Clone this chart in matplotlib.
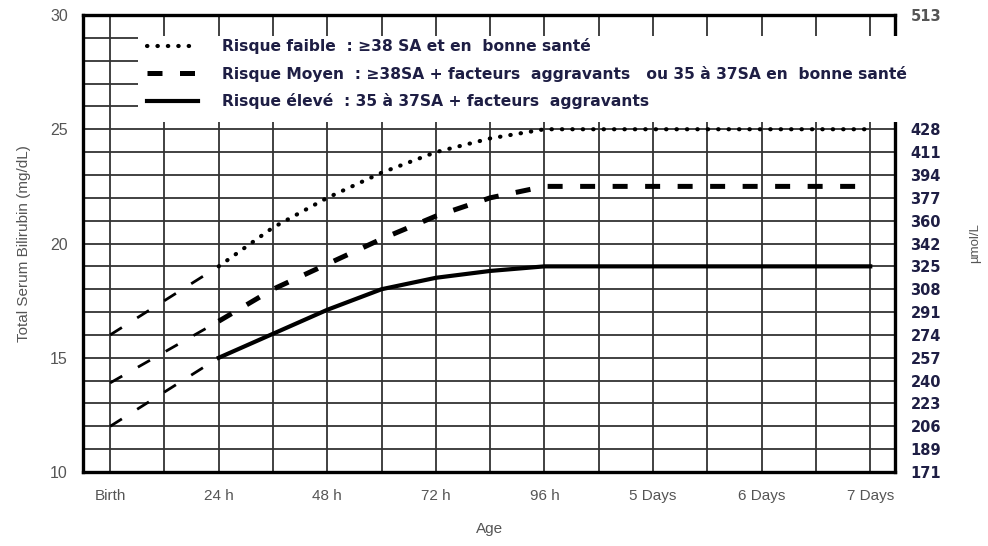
import matplotlib
matplotlib.use("Agg")
import matplotlib.pyplot as plt
from matplotlib.patches import Rectangle


# Age in hours, bilirubin in mg/dL
hours_early = [0, 24]
low_early = [16.0, 19.0]
mid_early = [13.9, 16.6]
high_early = [12.0, 15.0]

hours = [24, 36, 48, 60, 72, 84, 96, 168]
low_risk = [19.0, 20.7, 22.0, 23.1, 24.0, 24.6, 25.0, 25.0]
mid_risk = [16.6, 18.0, 19.1, 20.2, 21.2, 22.0, 22.5, 22.5]
high_risk = [15.0, 16.05, 17.1, 18.0, 18.5, 18.8, 19.0, 19.0]

legend_labels = [
    "Risque faible  : \u226538 SA et en  bonne santé",
    "Risque Moyen  : \u226538SA + facteurs  aggravants   ou 35 à 37SA en  bonne santé",
    "Risque élevé  : 35 à 37SA + facteurs  aggravants",
]

x_ticks = [0, 24, 48, 72, 96, 120, 144, 168]
x_labels = ["Birth", "24 h", "48 h", "72 h", "96 h", "5 Days", "6 Days", "7 Days"]
y_ticks = [10, 15, 20, 25, 30]
umol_ticks = [10, 11, 12, 13, 14, 15, 16, 17, 18, 19, 20, 21, 22, 23, 24, 25, 30]
umol_labels = ["171", "189", "206", "223", "240", "257", "274", "291", "308",
               "325", "342", "360", "377", "394", "411", "428", "513"]

label_grey = "#555555"
navy = "#1e1e44"

fig = plt.figure(figsize=(9.88, 5.46), dpi=100)
ax = fig.add_axes([0.084, 0.1355, 0.822, 0.837])

ax.set_xlim(-6, 173.5)
ax.set_ylim(10, 30)

# grid: every 12 h and every 1 mg/dL
ax.set_xticks(x_ticks)
ax.set_xticks([12, 36, 60, 84, 108, 132, 156], minor=True)
ax.set_yticks(y_ticks)
ax.set_yticks(range(10, 31), minor=True)
ax.grid(which="both", color="#333333", linewidth=1.3)
ax.set_axisbelow(True)
ax.tick_params(which="both", length=0)

ax.set_xticklabels(x_labels, fontsize=11, color=label_grey, family="Liberation Sans")
ax.set_yticklabels([str(v) for v in y_ticks], fontsize=11.5, color=label_grey,
                   family="Liberation Sans")
ax.tick_params(axis="x", pad=12)
ax.tick_params(axis="y", pad=11)

for sp in ax.spines.values():
    sp.set_linewidth(2.4)
    sp.set_color("black")

ax.set_xlabel("Age", fontsize=11, color=label_grey, family="Liberation Sans", labelpad=14)
ax.set_ylabel("Total Serum Bilirubin (mg/dL)", fontsize=11, color=label_grey,
              family="Liberation Sans", labelpad=14)

# thin dashed extrapolation from birth to 24 h
thin = dict(color="black", linewidth=2.0, linestyle=(0, (5, 6.5)), zorder=4)
ax.plot(hours_early, low_early, **thin)
ax.plot(hours_early, mid_early, **thin)
ax.plot(hours_early, high_early, **thin)

l1, = ax.plot(hours, low_risk, color="black", linewidth=3.0,
              linestyle=(0, (0.1, 2.4)), dash_capstyle="round", zorder=4)
l2, = ax.plot(hours, mid_risk, color="black", linewidth=3.6,
              linestyle=(0, (3.0, 3.5)), zorder=4)
l3, = ax.plot(hours, high_risk, color="black", linewidth=3.0, zorder=4)

# white box behind the legend, it hides grid and right spine
ax.add_patch(Rectangle((6.2, 25.3), 172, 3.8, facecolor="white", edgecolor="none",
                       zorder=3, clip_on=False))

leg = ax.legend([l1, l2, l3], legend_labels, loc="upper left",
                bbox_to_anchor=(147 / 988, 1 - 38 / 546), bbox_transform=fig.transFigure,
                frameon=False, borderpad=0, borderaxespad=0, handlelength=3.3,
                handletextpad=1.5, labelspacing=0.75,
                prop={"size": 11.2, "weight": "bold", "family": "DejaVu Sans"})
for t in leg.get_texts():
    t.set_color(navy)
leg.set_zorder(6)

# right axis in µmol/L
ax2 = ax.twinx()
ax2.set_ylim(10, 30)
ax2.set_yticks(umol_ticks)
ax2.set_yticklabels(umol_labels, fontsize=10.5, fontweight="bold", color=navy,
                    family="DejaVu Sans")
ax2.get_yticklabels()[-1].set_color(label_grey)
ax2.tick_params(length=0, pad=11)
for sp in ax2.spines.values():
    sp.set_visible(False)
ax2.set_ylabel("\u00b5mol/L", fontsize=9.5, color=label_grey, family="Liberation Sans",
               labelpad=20)

fig.savefig("out.png", dpi=100)
